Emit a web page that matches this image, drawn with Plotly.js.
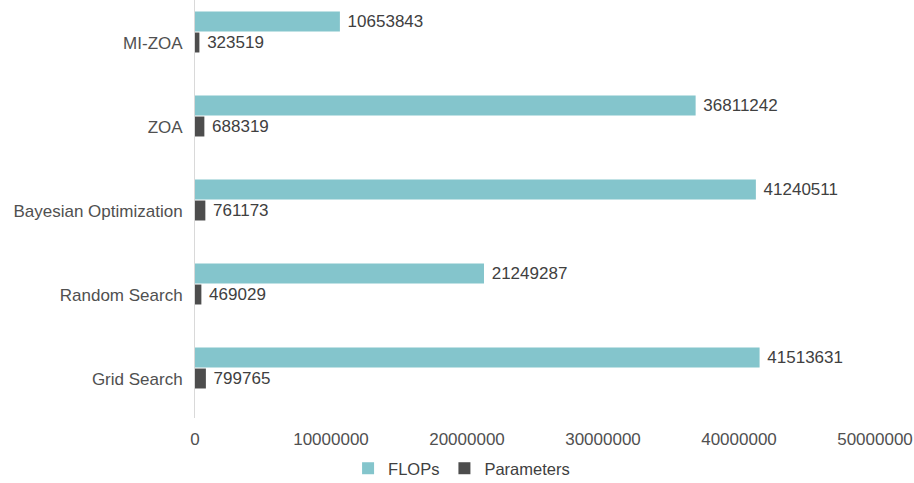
<!DOCTYPE html>
<html>
<head>
<meta charset="utf-8">
<script src="https://cdn.plot.ly/plotly-3.0.1.min.js"></script>
<style>html,body{margin:0;padding:0;background:#fff;}#chart{width:914px;height:483px;}</style>
</head>
<body>
<div id="chart"></div>
<script>
var categories = ["Grid Search", "Random Search", "Bayesian Optimization", "ZOA", "MI-ZOA"];
var flops = [41513631, 21249287, 41240511, 36811242, 10653843];
var params = [799765, 469029, 761173, 688319, 323519];
var xTicks = [0, 10000000, 20000000, 30000000, 40000000, 50000000];

var font = {family: "Liberation Sans, Arial, sans-serif", size: 17, color: "#404040"};
var tickFont = {family: "Liberation Sans, Arial, sans-serif", size: 17, color: "#505050"};

var traces = [
  {
    type: "bar", orientation: "h", name: "Parameters",
    y: categories, x: params,
    marker: {color: "#4d4d4d"},
    text: params.map(String), textposition: "outside",
    texttemplate: " %{text}",
    textfont: font, cliponaxis: false, legendrank: 2,
    hoverinfo: "x+y"
  },
  {
    type: "bar", orientation: "h", name: "FLOPs",
    y: categories, x: flops,
    marker: {color: "#84c5cc"},
    text: flops.map(String), textposition: "outside",
    texttemplate: " %{text}",
    textfont: font, cliponaxis: false, legendrank: 1,
    hoverinfo: "x+y"
  }
];

var layout = {
  width: 914, height: 483,
  margin: {l: 195, r: 39, t: 0, b: 65},
  paper_bgcolor: "#ffffff", plot_bgcolor: "#ffffff",
  font: font,
  barmode: "group", bargap: 0.5, bargroupgap: 0.05,
  showlegend: true,
  legend: {orientation: "h", xref: "container", x: 0.505, xanchor: "center",
           yref: "container", y: 0.03, yanchor: "middle",
           font: {family: "Liberation Sans, Arial, sans-serif", size: 16.5, color: "#404040"},
           itemwidth: 30, tracegroupgap: 0},
  xaxis: {
    range: [0, 50000000], tickvals: xTicks, ticktext: xTicks.map(String),
    showgrid: false, zeroline: false, showline: false, ticks: "",
    tickfont: tickFont, ticklen: 0, ticklabelstandoff: 9, fixedrange: true
  },
  yaxis: {
    type: "category", range: [-0.595, 4.381],
    showgrid: false, zeroline: false, showline: true, linecolor: "#d9d9d9", linewidth: 1,
    ticks: "", tickfont: tickFont, ticklabelshift: 11, ticklabelstandoff: 8, fixedrange: true
  }
};

Plotly.newPlot("chart", traces, layout, {displayModeBar: false, staticPlot: true});
</script>
</body>
</html>
